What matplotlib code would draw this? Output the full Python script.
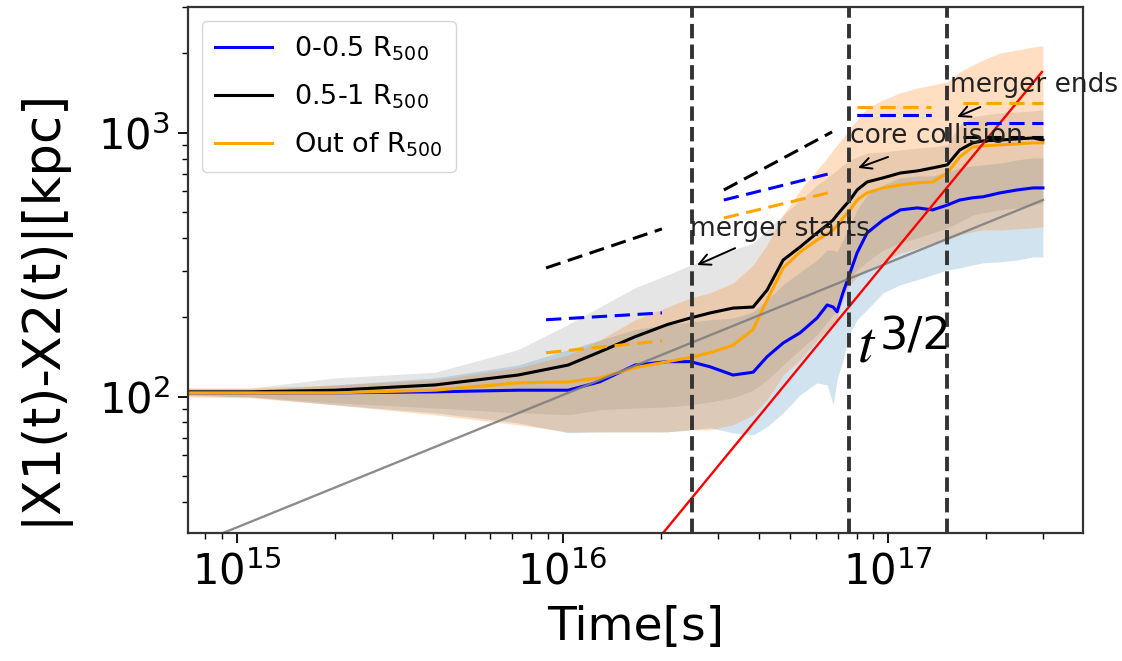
import matplotlib
matplotlib.use("Agg")
import matplotlib.pyplot as plt
import numpy as np

# Sampling times [s]
time_s = [7.07e14, 1.10e15, 2.00e15, 4.06e15, 7.30e15, 1.04e16, 1.30e16, 1.67e16,
          2.10e16, 2.47e16, 2.84e16, 3.34e16, 3.85e16, 4.25e16, 4.76e16, 5.37e16,
          6.05e16, 6.50e16, 6.78e16, 6.97e16, 7.27e16, 7.64e16, 8.03e16, 8.62e16,
          9.66e16, 1.09e17, 1.23e17, 1.37e17, 1.52e17, 1.66e17, 1.82e17, 1.96e17,
          2.21e17, 2.49e17, 2.79e17, 2.99e17]

# Median separation |X1-X2| [kpc] for each radial shell
inner_med = [103.6, 103.6, 103.6, 104.5, 106, 106, 114, 132, 136, 136, 130, 121, 124,
             142, 160, 175, 199, 223, 219, 210, 248, 295, 351, 418, 468, 511, 520,
             511, 533, 557, 568, 573, 593, 608, 619, 619]
middle_med = [104.5, 104.5, 106, 111, 121, 132, 148, 169, 188, 199, 208, 217, 219,
              254, 330, 370, 418, 448, 468, 489, 520, 557, 608, 652, 676, 705, 718,
              737, 757, 862, 917, 933, 940, 949, 957, 940]
outer_med = [103.6, 103.6, 103.6, 106, 113, 114, 118, 129, 136, 141, 147, 157, 180,
             233, 308, 354, 393, 414, 429, 445, 476, 511, 557, 593, 619, 635, 647,
             652, 705, 811, 885, 893, 901, 909, 917, 917]

# Scatter envelopes [kpc]
inner_lo = [101.8, 100, 93.3, 87.0, 79.7, 73.1, 73.7, 73.7, 73.7, 75, 76.4, 73.1, 71.8,
            77.0, 87.0, 101.8, 113, 111, 93.3, 116, 138, 175, 196, 214, 248, 266, 278,
            290, 303, 308, 316, 322, 325, 330, 339, 339]
inner_hi = [106, 106, 111, 118, 132, 151, 164, 180, 188, 192, 196, 199, 210, 233, 266,
            297, 330, 360, 360, 354, 393, 448, 511, 582, 635, 676, 687, 687, 711, 737,
            750, 757, 769, 791, 804, 804]
middle_lo = [101, 100, 94.9, 90.8, 87.0, 85.5, 89.3, 90.8, 91.6, 93.3, 95.7, 99.2, 106,
             116, 132, 151, 172, 192, 205, 217, 243, 278, 303, 325, 360, 383, 400, 418,
             437, 460, 489, 498, 511, 520, 533, 543]
middle_hi = [108, 108, 118, 124, 151, 188, 219, 259, 290, 316, 336, 360, 383, 429, 489,
             557, 635, 676, 705, 724, 757, 791, 811, 840, 847, 862, 877, 885, 901, 1072,
             1150, 1170, 1191, 1201, 1212, 1222]
outer_lo = [100, 99.2, 93.3, 85.5, 78.4, 73.7, 73.7, 73.7, 73.7, 75, 75, 78.4, 85.5,
            97.5, 121, 138, 164, 180, 188, 199, 233, 266, 285, 303, 325, 351, 366, 383,
            393, 411, 422, 429, 429, 433, 437, 441]
outer_hi = [108, 108, 111, 116, 129, 144, 164, 196, 219, 237, 248, 270, 316, 377, 489,
            608, 724, 804, 862, 901, 957, 1045, 1120, 1243, 1334, 1419, 1479, 1520, 1560,
            1702, 1811, 1892, 2010, 2061, 2119, 2138]

# Power-law guides (t^1/2 and t^3/2)
guide_half_t = [9.06e14, 2.99e17]
guide_half_y = [30.5, 557]
guide_32_t = [2.0e16, 2.97e17]
guide_32_y = [29.7, 1702]

# Phase markers [s]
phase_times = [2.5e16, 7.59e16, 1.52e17]

# Local slope segments per phase: (t0, t1, y0, y1)
seg_middle = [(8.9e15, 2.02e16, 308, 433), (3.13e16, 6.73e16, 608, 1009),
              (8.04e16, 1.35e17, 1170, 1170), (1.70e17, 2.99e17, 966, 966)]
seg_inner = [(8.9e15, 2.02e16, 196, 208), (3.13e16, 6.73e16, 557, 705),
             (8.04e16, 1.35e17, 1165, 1165), (1.70e17, 2.99e17, 1091, 1091)]
seg_outer = [(8.9e15, 2.02e16, 147, 163), (3.13e16, 6.73e16, 476, 598),
             (8.04e16, 1.35e17, 1254, 1254), (1.70e17, 2.99e17, 1299, 1299)]

fig = plt.figure(figsize=(11.22, 6.61), dpi=100)
ax = fig.add_axes([188 / 1122, 128 / 661, 895 / 1122, 526 / 661])
ax.set_xscale("log")
ax.set_yscale("log")

t = np.array(time_s)
ax.fill_between(t, middle_lo, middle_hi, color="gray", alpha=0.2, lw=0)
ax.fill_between(t, inner_lo, inner_hi, color="C0", alpha=0.2, lw=0)
ax.fill_between(t, outer_lo, outer_hi, color="C1", alpha=0.25, lw=0)

ax.plot(t, inner_med, color="blue", lw=2.2, label=r"0-0.5 R$_{500}$")
ax.plot(t, middle_med, color="black", lw=2.2, label=r"0.5-1 R$_{500}$")
ax.plot(t, outer_med, color="orange", lw=2.2, label=r"Out of R$_{500}$")

ax.plot(guide_half_t, guide_half_y, color="gray", lw=1.7, alpha=0.9)
ax.plot(guide_32_t, guide_32_y, color="red", lw=1.7)

for segs, col in ((seg_middle, "black"), (seg_inner, "blue"), (seg_outer, "orange")):
    for t0, t1, y0, y1 in segs:
        ax.plot([t0, t1], [y0, y1], color=col, lw=2.2, ls=(0, (5, 2.5)))

for tp in phase_times:
    ax.axvline(tp, color="#333333", lw=2.8, ls="--", zorder=4)

ax.text(2.47e16, 408, "merger starts", fontsize=19, color="#222222", zorder=5)
ax.text(7.64e16, 917, "core collision", fontsize=19, color="#222222", zorder=5)
ax.text(1.55e17, 1429, "merger ends", fontsize=19, color="#222222", zorder=5)
arrow = dict(arrowstyle="->", color="black", lw=1.4, shrinkA=0, shrinkB=0,
             mutation_scale=20)
ax.annotate("", xy=(2.59e16, 316), xytext=(3.39e16, 366), arrowprops=arrow)
ax.annotate("", xy=(8.09e16, 737), xytext=(1.0e17, 811), arrowprops=arrow)
ax.annotate("", xy=(1.63e17, 1150), xytext=(1.92e17, 1254), arrowprops=arrow)

# t^{3/2} label
ax.text(8.03e16, 136, r"$t$", fontsize=42, math_fontfamily="stix", zorder=5)
ax.text(9.45e16, 151, "3/2", fontsize=32, family="DejaVu Sans", zorder=5)

ax.set_xlim(7.07e14, 3.97e17)
ax.set_ylim(30.5, 3000)
ax.set_xlabel("Time[s]", fontsize=34, labelpad=8)
ax.set_ylabel("|X1(t)-X2(t)|[kpc]", fontsize=37)
ax.yaxis.set_label_coords(-0.135, 0.43)
ax.tick_params(which="major", labelsize=30, length=7, width=1.3, pad=6)
ax.tick_params(which="minor", length=4.5, width=1.0)
for sp in ax.spines.values():
    sp.set_linewidth(1.6)
    sp.set_color("#333333")

ax.legend(loc="upper left", fontsize=19.5, handlelength=2.1, labelspacing=0.72,
          borderpad=0.5)

fig.savefig("out.png", dpi=100)
